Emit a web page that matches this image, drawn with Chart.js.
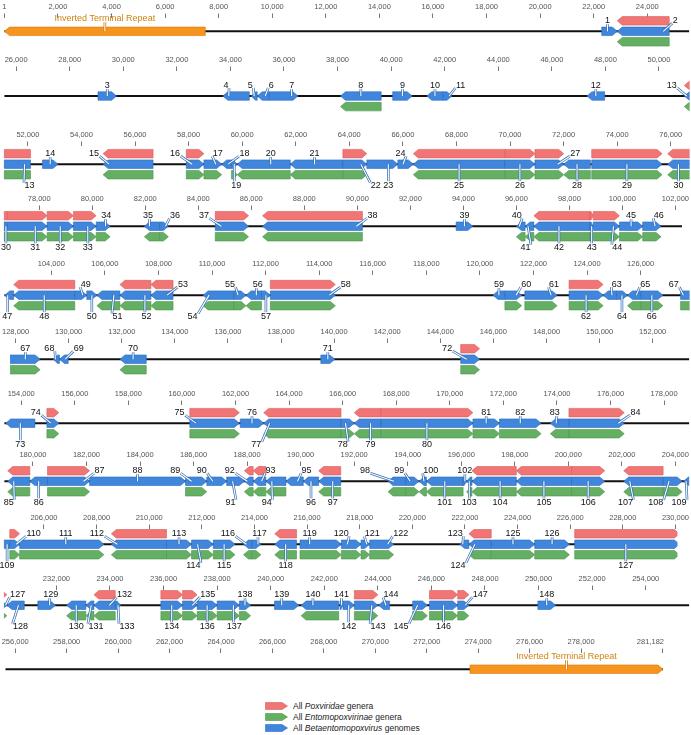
<!DOCTYPE html>
<html><head><meta charset="utf-8">
<script src="https://cdn.jsdelivr.net/npm/chart.js@4.4.1/dist/chart.umd.min.js"></script>
<style>
html,body{margin:0;padding:0;background:#fff;}
#wrap{position:relative;width:691px;height:735px;overflow:hidden;background:#fff;}
#wrap canvas{position:absolute;left:0;}
#legend{position:absolute;left:265px;top:700px;font-family:'Liberation Sans',Arial,sans-serif;font-size:8.5px;color:#222;}
#legend div{height:11px;display:flex;align-items:center;white-space:nowrap;}
#legend svg{margin-right:5px;flex:none;}
</style></head><body>
<div id="wrap"><div id="legend"></div></div>
<script>
// ---------------- DATA ----------------
const genomeLength = 281182;
const rowCount = 11;
const tickStep = 2000;

const geneNumber = [1,2,3,4,5,6,7,8,9,10,11,12,13,14,15,16,17,18,19,20,21,22,23,24,25,26,27,28,29,30,
31,32,33,34,35,36,37,38,39,40,41,42,43,44,45,46,47,48,49,50,51,52,53,54,55,56,57,58,59,60,
61,62,63,64,65,66,67,68,69,70,71,72,73,74,75,76,77,78,79,80,81,82,83,84,85,86,87,88,89,90,
91,92,93,94,95,96,97,98,99,100,101,102,103,104,105,106,107,108,109,110,111,112,113,114,115,116,117,118,119,120,
121,122,123,124,125,126,127,128,129,130,131,132,133,134,135,136,137,138,139,140,141,142,143,144,145,146,147,148];

const geneStart = [22300,22880,29056,33715,34780,35000,35450,38109,40058,41331,
41942,47311,50945,52545,54808,57914,58573,59236,59600,59814,
61796,63760,64655,65812,66390,69808,70931,72005,73050,75888,
76800,78297,79289,80148,81965,82543,84641,86425,93727,95999,
96330,96660,98780,98900,99889,100765,102260,102595,104876,105322,
105702,106560,107718,109666,110822,111268,111846,112176,120487,120933,
121677,123329,124601,125097,125510,126006,127491,129421,129652,131932,
139498,144768,153422,154958,160294,162177,163053,165939,166435,167427,
170863,171854,173754,174448,179058,179884,180545,182115,185700,186494,
187237,187898,188228,188700,189450,190100,190673,193265,193926,194422,
194700,196070,196200,196400,198056,200121,202070,203541,204301,204700,
205074,208560,210657,211608,212434,213583,213913,214772,215730,217300,
218050,218380,221800,222150,223000,224651,226171,230150,231306,232380,
233100,233400,234197,235899,236709,237254,238000,238830,240144,241135,
242590,242700,243124,244026,245300,245926,246980,249974];

const geneEnd = [22880,24820,29750,34706,35000,35450,36523,39629,40785,41942,
42272,47972,52100,53123,56675,58573,59236,59600,59814,61796,
63760,64655,65812,66390,69808,70931,72005,73000,75677,76800,
78297,79289,80148,80676,82543,82873,85897,90192,94355,96330,
96660,98780,98900,99889,100765,101458,102595,104876,105322,105702,
106560,107718,108544,110822,111268,111846,112176,114604,120933,121561,
122883,124601,125097,125510,126006,126832,128925,129652,129982,132923,
140027,145478,154512,155404,162144,163053,165939,166435,167427,170863,
171854,173407,174448,176513,179884,180545,182115,185700,186494,187237,
187898,188228,188700,189450,190100,190673,191499,193926,194422,194700,
196070,196200,196400,198056,200121,201360,203541,204252,204700,205074,
208279,210657,211608,212434,213260,213913,214244,215599,217300,218050,
218380,219290,222150,223000,224651,225973,230150,230800,231967,233100,
233400,234197,234400,236709,237254,238000,238830,239250,241050,242540,
242700,243124,244000,244440,245850,246980,247400,250634];

const geneStrand = [1,-1,1,-1,-1,-1,1,-1,1,-1,
1,-1,-1,1,-1,1,1,-1,1,-1,
-1,1,1,1,-1,1,1,-1,1,-1,
1,1,1,1,-1,1,1,-1,1,-1,
-1,-1,1,1,1,1,-1,-1,1,1,
-1,-1,-1,-1,1,-1,1,1,-1,1,
1,1,-1,1,-1,1,1,-1,-1,-1,
1,1,-1,1,1,1,-1,1,-1,1,
1,1,-1,1,-1,-1,1,1,1,1,
1,-1,-1,-1,-1,-1,-1,-1,1,-1,
-1,1,-1,-1,-1,1,-1,1,-1,1,
1,-1,1,1,1,-1,1,-1,1,1,
1,1,-1,-1,1,1,1,-1,1,-1,
-1,-1,1,1,1,1,1,1,1,-1,
1,1,1,-1,1,1,1,1];

// genes conserved in all Poxviridae genera (red)
const poxviridaeGenes = [2,13,15,16,22,25,26,27,29,30,31,32,33,37,38,42,43,44,48,52,53,58,62,72,74,75,77,79,80,84,
85,87,92,93,97,104,105,106,107,110,112,118,124,127,132,134,135,143,146,147];
// genes conserved in all Entomopoxvirinae genera (green)
const entomopoxvirinaeGenes = [2,8,13,15,16,17,19,20,21,22,25,26,27,28,29,30,31,32,33,34,35,36,37,38,40,41,42,43,44,45,46,
48,51,52,53,54,55,56,58,60,61,62,65,66,67,70,72,74,75,77,78,79,80,81,82,83,84,85,87,89,92,93,94,97,98,99,100,101,103,
104,105,106,107,108,110,111,112,113,114,115,116,117,118,119,120,121,122,124,125,126,127,130,131,132,134,135,136,137,138,
140,143,145,146,147];

const itrStart = [1, 273682];
const itrEnd = [7500, 281182];
const itrStrand = [-1, 1];
const itrName = 'Inverted Terminal Repeat';

const seriesNames = [['All ', 'Poxviridae', ' genera'], ['All ', 'Entomopoxvirinae', ' genera'], ['All ', 'Betaentomopoxvirus', ' genomes']];

// ---------------- LAYOUT (positions / styles) ----------------
const lineY = [30, 95, 163, 225, 294, 358, 422, 480, 543, 604, 668];
const tickLabelY = [5, 58, 133, 197, 262, 330, 392, 453, 516, 577, 640];
const labelLayout = [
'1 a -2','2 a 32',
'4 a -10','5 a -4','6 a 8','7 a 8','11 a 13','13@1 a -15',
'13@2 b 12','15 a -34','16 a -20','17 a 5','18 a 18','19 b 2','20 a 7','21 a -2','22 b 21','23 b 6','24 a -5','25 b 0','26 b 0','27 a 26','28 b 0','29 b 0','30@2 b 0',
'30@3 b 0','31 b 8','32 b 0','33 b 3','34 a 3','35 a -4','36 a 11','37 a -28','38 a 60','40 a -4','41 b -4','42 b -3','43 b 0','44 b 11','46 a 7',
'47 b -2','48 b 0','49 a 5','50 b 0','51 b 9','52 b 11','53 a 21','54 b -26','55 a -10','56 a 4','57 b 0','58 a 43','60 a 13','61 a 13','62 b 0','63 a 7','64 b 0','65 a 11','66 b 0','67@4 a -11',
'68 a -7','69 a 15','72 a -23',
'73 b 0','74 a -17','75 a -35','77 b -46','78 b -5','79 b 3','80 b 0','83 a -5','84 a 39',
'85 b -10','86 b 0','87 a 31','89 a -21','90 a -15','91 b -5','92 a -19','93 a 11','94 b -9','95 a 12','96 b 0','97 b 3','98 a -32','99 a -13','100 a 8','101 b 0','103 b 0','104 b 6','105 b 0','106 b 0','107 b -18','108 b -17','109@7 b -7',
'109@8 b 0','110 a 19','111 a 4','112 a -42','114 b -9','115 b 0','116 a -20','117 a 3','118 b 0','119 a -11','120 a -10','121 a 7','122 a 19','123 a -9','124 b -22','127@8 b 0',
'127@9 a 12','128 b 5','129 a 4','130 b 0','131 b 6','132 a 20','133 b 9','134 b 0','135 a 18','136 b 0','137 b 6','139 a -5','140 a -7','142 b 0','143 b 12','144 a 7','145 b -19','146 b 0','147 a 17'
];
const TRACK_PX = 11, BAR_H = 8.5, TIP = 5;
const colors = {
  P: {fill: '#f27575', stroke: '#d65d5d'},
  B: {fill: '#3f86dc', stroke: '#2c6cbc'},
  E: {fill: '#64af64', stroke: '#4b954b'},
  I: {fill: '#f7941d', stroke: '#d87b0b'}
};
const FONT = '"Liberation Sans", Arial, sans-serif';

// ---------------- BUILD ----------------
const layoutMap = {};
labelLayout.forEach(s => { const p = s.split(' '); layoutMap[p[0]] = {side: p[1], dx: +p[2]}; });
const poxSet = new Set(poxviridaeGenes), entSet = new Set(entomopoxvirinaeGenes);
const rowLen = genomeLength / rowCount;
const fmt = v => v.toLocaleString('en-US');

function arrowPath(ctx, x0, x1, yc, h, dir) {
  const w = x1 - x0, tip = Math.min(TIP, w * 0.7), t = yc - h / 2, b = yc + h / 2;
  ctx.beginPath();
  if (dir > 0) { ctx.moveTo(x0, t); ctx.lineTo(x1 - tip, t); ctx.lineTo(x1, yc); ctx.lineTo(x1 - tip, b); ctx.lineTo(x0, b); }
  else { ctx.moveTo(x1, t); ctx.lineTo(x0 + tip, t); ctx.lineTo(x0, yc); ctx.lineTo(x0 + tip, b); ctx.lineTo(x1, b); }
  ctx.closePath();
}
function leader(ctx, x0, y0, x1, y1, outer) {
  ctx.lineCap = 'butt';
  ctx.beginPath(); ctx.moveTo(x0, y0); ctx.lineTo(x1, y1);
  ctx.strokeStyle = outer; ctx.lineWidth = 2.6; ctx.stroke();
  ctx.beginPath(); ctx.moveTo(x0, y0); ctx.lineTo(x1, y1);
  ctx.strokeStyle = '#ffffff'; ctx.lineWidth = 1.1; ctx.stroke();
}

const geneMapPlugin = {
  id: 'geneMap',
  beforeDatasetsDraw(chart) {
    const {ctx, chartArea, scales: {x, y}} = chart;
    const yl = y.getPixelForValue(0);
    ctx.save();
    ctx.strokeStyle = '#111'; ctx.lineWidth = 2;
    ctx.beginPath(); ctx.moveTo(chartArea.left, yl); ctx.lineTo(chartArea.right, yl); ctx.stroke();
    ctx.restore();
  },
  afterDatasetsDraw(chart, args, opts) {
    const {ctx, chartArea, scales: {x, y}} = chart;
    const r = opts.row, r0 = r * rowLen, r1 = (r + 1) * rowLen;
    ctx.save();
    ctx.beginPath(); ctx.rect(chartArea.left - 0.5, 0, chartArea.right - chartArea.left + 1, chart.height); ctx.clip();
    chart.data.datasets.forEach(ds => {
      const c = colors[ds.track];
      ds.data.forEach(pt => {
        const x0 = x.getPixelForValue(pt.x[0]), x1 = x.getPixelForValue(pt.x[1]);
        const yc = y.getPixelForValue(pt.y);
        arrowPath(ctx, x0, x1, yc, BAR_H, pt.dir);
        ctx.fillStyle = c.fill; ctx.fill();
        ctx.strokeStyle = c.stroke; ctx.lineWidth = 0.6; ctx.stroke();
      });
    });
    ctx.restore();

    const yl = y.getPixelForValue(0);
    ctx.save();
    ctx.font = '9px ' + FONT; ctx.textAlign = 'center'; ctx.textBaseline = 'middle';
    const blue = chart.data.datasets.find(d => d.track === 'B');
    const itr = chart.data.datasets.find(d => d.track === 'I');
    // gene labels
    blue.data.forEach(pt => {
      const n = pt.gene;
      const s = Math.max(pt.x[0], r0), e = Math.min(pt.x[1], r1);
      const xs = x.getPixelForValue(s), xe = x.getPixelForValue(e), cx = (xs + xe) / 2;
      const lay = layoutMap[n + '@' + r] || layoutMap[String(n)] || {side: 'a', dx: 0};
      const lx = cx + lay.dx;
      const above = lay.side === 'a';
      const ly = above ? yl - 11 : yl + 21.5;
      const txt = String(n);
      const tw = ctx.measureText(txt).width;
      let ax = cx;
      const w = xe - xs, inset = Math.min(6, w / 3);
      if (w > 6) ax = Math.min(Math.max(lx, xs + inset), xe - inset);
      let sx, sy = above ? ly + 4 : ly - 4.5;
      if (Math.abs(lx - ax) > 2) {
        sx = lx + (lx > ax ? -(tw / 2 + 0.5) : (tw / 2 + 0.5));
        sy = above ? ly + 3 : ly - 3;
      } else { sx = ax; }
      leader(ctx, sx, sy, ax, yl, '#3570b8');
      ctx.fillStyle = '#111';
      ctx.fillText(txt, lx, ly);
    });
    // ITR label
    itr.data.forEach(pt => {
      const xs = x.getPixelForValue(Math.max(pt.x[0], r0)), xe = x.getPixelForValue(Math.min(pt.x[1], r1));
      const cx = (xs + xe) / 2, ly = yl - 13;
      leader(ctx, cx, ly + 4, cx, yl, '#d07a0c');
      ctx.fillStyle = '#cf8310';
      ctx.fillText(itrName, cx, ly);
    });
    ctx.restore();
  }
};

const wrap = document.getElementById('wrap');
for (let r = 0; r < rowCount; r++) {
  const r0 = r * rowLen, r1 = (r + 1) * rowLen;
  const T = tickLabelY[r] - 7;
  const H = Math.round(lineY[r] + 30 - T);
  const canvas = document.createElement('canvas');
  canvas.width = 691; canvas.height = H;
  canvas.style.top = T + 'px';
  wrap.appendChild(canvas);

  const chartTop = tickLabelY[r] + 10.5 - T;   // px within canvas
  const chartBottom = H - 2;
  const yLineLocal = lineY[r] - T;
  const yMax = (yLineLocal - chartTop) / TRACK_PX;
  const yMin = yMax - (chartBottom - chartTop) / TRACK_PX;

  const idx = [];
  for (let i = 0; i < geneNumber.length; i++) if (geneStart[i] < r1 && geneEnd[i] > r0) idx.push(i);
  const mk = (filter, yv) => idx.filter(filter).map(i => ({x: [geneStart[i], geneEnd[i]], y: yv, dir: geneStrand[i], gene: geneNumber[i]}));
  const itrData = [];
  for (let k = 0; k < itrStart.length; k++) if (itrStart[k] < r1 && itrEnd[k] > r0) itrData.push({x: [itrStart[k], itrEnd[k]], y: 0, dir: itrStrand[k]});

  const vals = [];
  if (r === 0) vals.push(1);
  for (let v = Math.ceil(r0 / tickStep) * tickStep; v <= r1; v += tickStep) {
    if (v <= 0) continue;
    if (r === rowCount - 1 && v > genomeLength - tickStep) continue;
    vals.push(v);
  }
  if (r === rowCount - 1) vals.push(genomeLength);

  const common = {backgroundColor: 'rgba(0,0,0,0)', borderWidth: 0, grouped: false, maxBarThickness: BAR_H, barPercentage: 1, categoryPercentage: 1};
  new Chart(canvas, {
    type: 'bar',
    data: {
      datasets: [
        Object.assign({label: seriesNames[2].join(''), track: 'B', data: mk(() => true, 0)}, common),
        Object.assign({label: seriesNames[0].join(''), track: 'P', data: mk(i => poxSet.has(geneNumber[i]), 1)}, common),
        Object.assign({label: seriesNames[1].join(''), track: 'E', data: mk(i => entSet.has(geneNumber[i]), -1)}, common),
        Object.assign({label: itrName, track: 'I', data: itrData}, common)
      ]
    },
    options: {
      responsive: false, animation: false, indexAxis: 'y',
      events: [],
      layout: {autoPadding: false, padding: {left: 4.4, right: 1.9, top: tickLabelY[r] - 4.5 - T, bottom: 2}},
      plugins: {legend: {display: false}, tooltip: {enabled: false}, geneMap: {row: r}},
      scales: {
        x: {
          type: 'linear', position: 'top', min: r0, max: r1,
          afterBuildTicks: sc => { sc.ticks = vals.map(v => ({value: v})); },
          ticks: {
            autoSkip: false, maxRotation: 0, minRotation: 0, padding: 2, color: '#555',
            font: {family: FONT, size: 7.5},
            callback: v => v === genomeLength ? fmt(v) + '\u2007'.repeat(6) : fmt(v)
          },
          grid: {display: true, drawOnChartArea: false, drawTicks: true, tickLength: 4, color: '#777', lineWidth: 1},
          border: {display: false}
        },
        y: {type: 'linear', min: yMin, max: yMax, display: false, offset: false, grid: {offset: false}}
      }
    },
    plugins: [geneMapPlugin]
  });
}

// legend
const legendEl = document.getElementById('legend');
const legendTracks = ['P', 'E', 'B'];
seriesNames.forEach((parts, k) => {
  const c = colors[legendTracks[k]];
  const d = document.createElement('div');
  d.innerHTML = '<svg width="23" height="8"><path d="M0.5 0.5 H17 L22.5 4 L17 7.5 H0.5 Z" fill="' + c.fill + '" stroke="' + c.stroke + '" stroke-width="0.6"/></svg>' +
    '<span>' + parts[0] + '<i>' + parts[1] + '</i>' + parts[2] + '</span>';
  legendEl.appendChild(d);
});
</script></body></html>
